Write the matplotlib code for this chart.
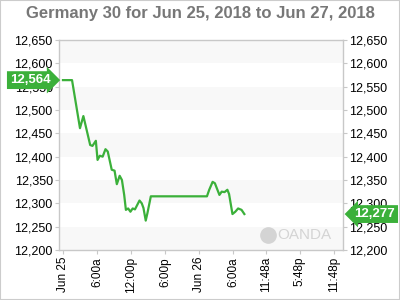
import matplotlib
matplotlib.use('Agg')
import matplotlib.pyplot as plt
from matplotlib.patches import Rectangle

plt.rcParams['font.family'] = ['Liberation Sans', 'DejaVu Sans']

# hours since Jun 25 00:00
hours = [0, 1.6, 3.0, 3.6, 4.8, 5.2, 5.8, 6.1, 6.5, 7.0, 7.5, 7.9, 8.6, 9.1,
         9.5, 10.0, 10.4, 10.8, 11.1, 11.5, 11.9, 12.3, 12.7, 13.5, 13.9,
         14.2, 14.6, 14.9, 15.5, 25.4, 25.8, 26.4, 26.8, 27.6, 28.0, 28.5,
         29.0, 29.3, 29.9, 30.4, 30.9, 31.5, 32.0]
prices = [12564, 12564, 12461, 12487, 12425, 12423, 12434, 12393, 12402,
          12400, 12416, 12411, 12372, 12370, 12341, 12359, 12350, 12318,
          12286, 12289, 12282, 12289, 12287, 12306, 12300, 12290, 12263,
          12279, 12315, 12315, 12329, 12346, 12343, 12318, 12325, 12324,
          12329, 12320, 12277, 12282, 12289, 12286, 12277]

tick_hours = [0, 6, 12, 18, 24, 30, 35.8, 41.8, 47.8]
tick_labels = ['Jun 25', '6:00a', '12:00p', '6:00p', 'Jun 26', '6:00a',
               '11:48a', '5:48p', '11:48p']
y_ticks = list(range(12200, 12651, 50))

green = '#3bb03a'
grid_grey = '#c8c8c8'

fig = plt.figure(figsize=(4, 3), dpi=100)
ax = fig.add_axes([0.1475, 0.1667, 0.71, 0.70])

# alternating bands
for i, lo in enumerate(y_ticks[:-1]):
    if i % 2 == 0:
        ax.axhspan(lo, lo + 50, color='#f8f8f8', lw=0, zorder=0)

ax.plot(hours, prices, color=green, lw=1.6, zorder=3)

ax.set_xlim(-0.7, 49.4)
ax.set_ylim(12200, 12650)
ax.set_yticks(y_ticks)
ax.set_yticklabels([f'{v:,}' for v in y_ticks])
ax.set_xticks(tick_hours)
ax.set_xticklabels(tick_labels, rotation=90)
ax.tick_params(axis='y', labelsize=9, length=3, pad=1.5, color=grid_grey,
               right=True, labelright=True)
ax.tick_params(axis='x', labelsize=8.5, length=3, pad=2, color=grid_grey)
for s in ax.spines.values():
    s.set_color(grid_grey)
    s.set_linewidth(1)

# first / last price tags
first, last = prices[0], prices[-1]
ax.annotate(f'{first:,}', xy=(0, first), xycoords=('axes fraction', 'data'),
            xytext=(-0.03, first), textcoords=('axes fraction', 'data'),
            ha='right', va='center', color='white', fontsize=9.5,
            fontweight='bold', zorder=5, annotation_clip=False,
            bbox=dict(boxstyle='rarrow,pad=0.22', fc=green, ec='none'))
ax.annotate(f'{last:,}', xy=(1, last), xycoords=('axes fraction', 'data'),
            xytext=(1.04, last), textcoords=('axes fraction', 'data'),
            ha='left', va='center', color='white', fontsize=9.5,
            fontweight='bold', zorder=5, annotation_clip=False,
            bbox=dict(boxstyle='larrow,pad=0.22', fc=green, ec='none'))

# watermark
ax.plot([0.735], [0.07], marker='o', ms=11, color='#d4d4d4',
        transform=ax.transAxes, zorder=1)
ax.text(0.77, 0.07, 'OANDA', transform=ax.transAxes, ha='left',
        va='center', fontsize=11, color='#d4d4d4', zorder=1)

fig.suptitle('Germany 30 for Jun 25, 2018 to Jun 27, 2018', y=0.98,
             fontsize=12, fontweight='bold', color='#777777')

fig.patches.append(Rectangle((0, 0), 1, 1, transform=fig.transFigure,
                             fill=False, ec='#cccccc', lw=1.5))

fig.savefig('out.png', dpi=100)
